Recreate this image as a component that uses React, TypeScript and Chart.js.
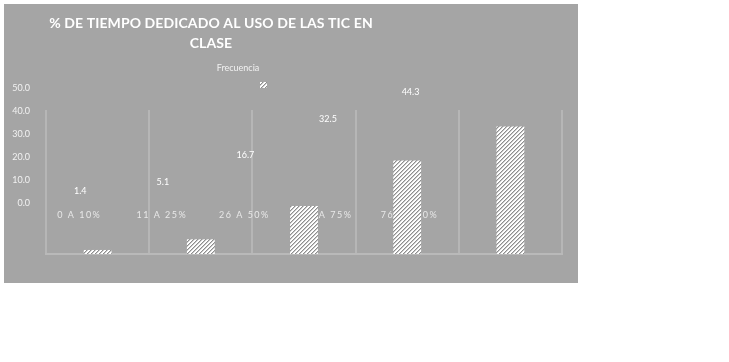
import React, { useEffect, useRef } from 'react';
import { Chart, registerables } from 'chart.js';

Chart.register(...registerables);

const categories = ['0 A 10%', '11 A 25%', '26 A 50%', '51 A 75%', '76 A 100%'];
const frecuencia = [1.4, 5.1, 16.7, 32.5, 44.3];
const yTickValues = [0, 10, 20, 30, 40, 50];
const titleLines = ['% DE TIEMPO DEDICADO AL USO DE LAS TIC EN', 'CLASE'];
const seriesLabel = 'Frecuencia';

function makeHatch(ctx: CanvasRenderingContext2D): CanvasPattern | string {
  const c = document.createElement('canvas');
  c.width = 4;
  c.height = 4;
  const g = c.getContext('2d');
  if (!g) return '#ffffff';
  g.fillStyle = '#ffffff';
  g.fillRect(0, 0, 4, 4);
  for (let x = 0; x < 4; x++) {
    for (let y = 0; y < 4; y++) {
      const m = (x + y) % 4;
      if (m === 0) {
        g.fillStyle = '#8e8e8e';
        g.fillRect(x, y, 1, 1);
      } else if (m === 1) {
        g.fillStyle = '#c9c9c9';
        g.fillRect(x, y, 1, 1);
      }
    }
  }
  return ctx.createPattern(c, 'repeat') || '#ffffff';
}

const decorPlugin = {
  id: 'decor',
  beforeDraw(chart: any) {
    const ctx = chart.ctx;
    ctx.save();
    ctx.fillStyle = '#a5a5a5';
    ctx.fillRect(4, 4, 574, 279);
    ctx.restore();
  },
  beforeDatasetsDraw(chart: any) {
    const { ctx, chartArea, scales } = chart;
    const xs = scales.x;
    const ys = scales.y;
    const k = 0.8;
    const gx = (px: number) => 38 + (px - chartArea.left) * k;
    const gy = (v: number) => 204 - (chartArea.bottom - ys.getPixelForValue(v)) * k;
    ctx.save();
    // title
    ctx.fillStyle = '#ffffff';
    ctx.font = 'bold 14px Lato';
    (ctx as any).letterSpacing = '0.1px';
    ctx.textAlign = 'center';
    ctx.textBaseline = 'middle';
    titleLines.forEach((t, i) => ctx.fillText(t, 211, 23 + i * 20));
    // legend
    ctx.font = '9px Lato';
    (ctx as any).letterSpacing = '0px';
    ctx.fillStyle = '#f2f2f2';
    ctx.fillText(seriesLabel, 238, 68);
    ctx.fillStyle = chart.data.datasets[0].backgroundColor;
    ctx.fillRect(260, 82, 7, 6);
    // y tick labels (displaced)
    ctx.textAlign = 'right';
    ctx.fillStyle = '#f2f2f2';
    ctx.font = '9px Lato';
    yTickValues.forEach((v) => ctx.fillText(v.toFixed(1), 30, gy(v) - 1));
    // category labels (displaced)
    ctx.textAlign = 'center';
    ctx.font = '9px Lato';
    (ctx as any).letterSpacing = '1.5px';
    ctx.fillStyle = '#e8e8e8';
    categories.forEach((c, i) => ctx.fillText(c, gx(xs.getPixelForValue(i)), 215));
    // data labels (displaced)
    (ctx as any).letterSpacing = '0px';
    ctx.font = '9px Lato';
    ctx.fillStyle = '#ffffff';
    frecuencia.forEach((v, i) => ctx.fillText(v.toFixed(1), gx(xs.getPixelForValue(i)) + 1, gy(v) - 10));
    ctx.restore();
  },
};

export default function App() {
  const ref = useRef<HTMLCanvasElement | null>(null);
  useEffect(() => {
    const canvas = ref.current;
    if (!canvas) return;
    const ctx = canvas.getContext('2d');
    if (!ctx) return;
    const hatch = makeHatch(ctx);
    const chart = new Chart(canvas, {
      type: 'bar',
      data: {
        labels: categories,
        datasets: [
          {
            label: seriesLabel,
            data: frecuencia,
            backgroundColor: hatch as any,
            borderWidth: 0,
            categoryPercentage: 1,
            barPercentage: 0.27,
          },
        ],
      },
      options: {
        responsive: false,
        animation: false,
        devicePixelRatio: 1,
        layout: { padding: { left: 46, right: 167, top: 110, bottom: 108 } },
        plugins: {
          legend: { display: false },
          title: { display: false },
          tooltip: { enabled: false },
        },
        scales: {
          x: {
            display: true,
            grid: {
              display: true,
              offset: true,
              color: '#b6b6b6',
              lineWidth: 2,
              drawTicks: false,
              tickLength: 0,
            },
            border: { display: true, color: '#b9b9b9', width: 2 },
            ticks: { display: false },
          },
          y: {
            display: false,
            min: 0,
            max: 50,
          },
        },
      },
      plugins: [decorPlugin],
    });
    return () => chart.destroy();
  }, []);
  return (
    <div style={{ position: 'absolute', left: 0, top: 0, width: 729, height: 362, background: '#ffffff' }}>
      <canvas ref={ref} width={729} height={362} style={{ display: 'block', width: 729, height: 362 }} />
    </div>
  );
}
